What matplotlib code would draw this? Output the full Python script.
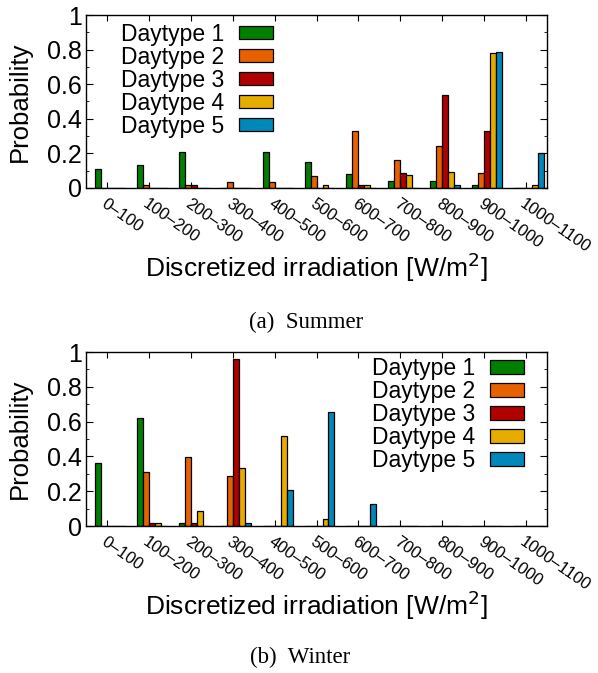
import matplotlib
matplotlib.use("Agg")
import matplotlib.pyplot as plt
import numpy as np

plt.rcParams['font.family'] = ['Liberation Sans', 'DejaVu Sans']

bins = ['0–100', '100–200', '200–300', '300–400', '400–500', '500–600',
        '600–700', '700–800', '800–900', '900–1000', '1000–1100']
daytypes = ['Daytype 1', 'Daytype 2', 'Daytype 3', 'Daytype 4', 'Daytype 5']
colors = ['#007f00', '#e86100', '#b00000', '#e6ac00', '#0088b8']

# probability per irradiation bin, one list per daytype
summer_dt1 = [0.11, 0.13, 0.21, 0.0, 0.21, 0.15, 0.08, 0.04, 0.04, 0.02, 0.0]
summer_dt2 = [0.0, 0.02, 0.015, 0.035, 0.035, 0.07, 0.33, 0.16, 0.245, 0.085, 0.0]
summer_dt3 = [0.0, 0.0, 0.015, 0.0, 0.0, 0.0, 0.015, 0.087, 0.54, 0.33, 0.0]
summer_dt4 = [0.0, 0.0, 0.0, 0.0, 0.0, 0.02, 0.017, 0.073, 0.09, 0.78, 0.017]
summer_dt5 = [0.0, 0.0, 0.0, 0.0, 0.0, 0.0, 0.0, 0.0, 0.015, 0.785, 0.2]

winter_dt1 = [0.36, 0.62, 0.02, 0.0, 0.0, 0.0, 0.0, 0.0, 0.0, 0.0, 0.0]
winter_dt2 = [0.0, 0.31, 0.395, 0.29, 0.0, 0.0, 0.0, 0.0, 0.0, 0.0, 0.0]
winter_dt3 = [0.0, 0.02, 0.02, 0.96, 0.0, 0.0, 0.0, 0.0, 0.0, 0.0, 0.0]
winter_dt4 = [0.0, 0.02, 0.085, 0.335, 0.52, 0.04, 0.0, 0.0, 0.0, 0.0, 0.0]
winter_dt5 = [0.0, 0.0, 0.0, 0.02, 0.205, 0.655, 0.125, 0.0, 0.0, 0.0, 0.0]

summer = [summer_dt1, summer_dt2, summer_dt3, summer_dt4, summer_dt5]
winter = [winter_dt1, winter_dt2, winter_dt3, winter_dt4, winter_dt5]

fig = plt.figure(figsize=(5.98, 6.73), dpi=100)
ax_s = fig.add_axes([0.1438, 0.7207, 0.771, 0.257])
ax_w = fig.add_axes([0.1438, 0.2184, 0.771, 0.2585])

width = 1 / 7
ind = np.arange(len(bins))


def draw(ax, series, leg_anchor):
    for k, vals in enumerate(series):
        ax.bar(ind + (k - 1.5) * width, vals, width=width, color=colors[k],
               edgecolor='black', linewidth=0.9, label=daytypes[k])
    ax.set_xlim(-0.5, len(bins) - 0.5)
    ax.set_ylim(0, 1)
    ax.set_xticks(ind)
    ax.set_xticklabels(bins, rotation=-35, ha='left', va='top',
                       rotation_mode='anchor', fontsize=12)
    ax.set_yticks([0, 0.2, 0.4, 0.6, 0.8, 1])
    ax.set_yticklabels(['0', '0.2', '0.4', '0.6', '0.8', '1'], fontsize=18)
    ax.set_yticks(np.arange(0.1, 1.0, 0.2), minor=True)
    ax.tick_params(axis='x', direction='in', top=True, length=4, pad=6)
    ax.tick_params(axis='y', which='major', direction='in', right=True, length=5, pad=3)
    ax.tick_params(axis='y', which='minor', direction='in', right=True, length=2.5)
    for sp in ax.spines.values():
        sp.set_linewidth(1.0)
    ax.set_ylabel('Probability', fontsize=18.5)
    ax.yaxis.set_label_coords(-0.118, 0.5)
    ax.set_xlabel('Discretized irradiation [W/m$^2$]', fontsize=19)
    ax.xaxis.set_label_coords(0.5, -0.36)
    ax.legend(loc='upper right', bbox_to_anchor=leg_anchor, frameon=False,
              markerfirst=False, fontsize=16.5, handlelength=1.48,
              handleheight=0.52, handletextpad=0.65, labelspacing=0.0,
              borderpad=0, borderaxespad=0)


draw(ax_s, summer, (0.405, 0.955))
draw(ax_w, winter, (0.95, 0.97))

fig.text(0.512, 1 - 322 / 673, '(a)  Summer', ha='center', va='center',
         family='Liberation Serif', fontsize=16.5)
fig.text(0.502, 1 - 657 / 673, '(b)  Winter', ha='center', va='center',
         family='Liberation Serif', fontsize=16.5)

fig.savefig('out.png', dpi=100)
